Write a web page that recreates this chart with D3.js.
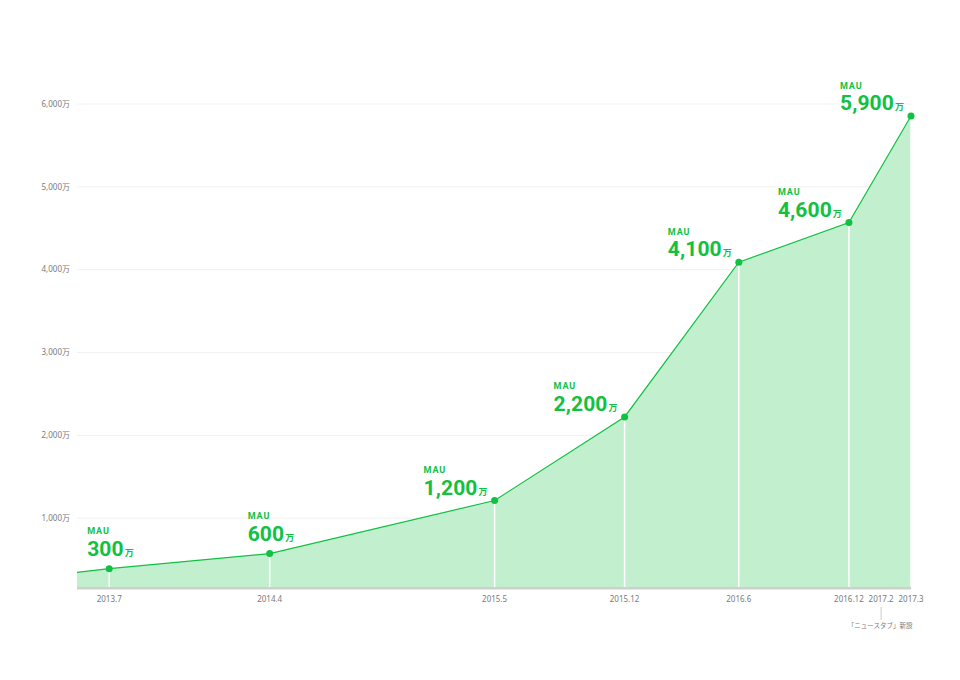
<!DOCTYPE html>
<html>
<head>
<meta charset="utf-8">
<script src="https://cdn.jsdelivr.net/npm/d3@7"></script>
<style>
  body { margin: 0; background: #fff; }
  svg { display: block; font-family: "Noto Sans", "Noto Sans CJK JP", sans-serif; }
</style>
</head>
<body>
<div id="chart"></div>
<script>
const width = 960, height = 680;

// data (values in 万)
const dates = ["2013-05-07", "2013-07-01", "2014-04-01", "2015-04-20", "2015-11-28", "2016-06-10", "2016-12-15", "2017-03-31"];
const values = [345, 390, 572, 1213, 2222, 4091, 4568, 5855];
const labels = [null, "300", "600", "1,200", "2,200", "4,100", "4,600", "5,900"];
const tickNames = ["2013.7", "2014.4", "2015.5", "2015.12", "2016.6", "2016.12", "2017.2", "2017.3"];
const tickDates = ["2013-07-01", "2014-04-01", "2015-04-20", "2015-11-28", "2016-06-10", "2016-12-15", "2017-02-08", "2017-03-31"];
const yTicks = [1000, 2000, 3000, 4000, 5000, 6000];
const note = "「ニュースタブ」新設";
const noteTick = "2017.2";

const green = "#10c142";
const parse = d3.timeParse("%Y-%m-%d");
const data = dates.map((d, i) => ({date: parse(d), value: values[i], label: labels[i]}));

const left = 77, right = 911, bottom = 587;

const svg = d3.select("#chart")
  .append("svg")
    .attr("width", width)
    .attr("height", height);

const x = d3.scaleTime()
  .domain([data[0].date, data[data.length - 1].date])
  .range([left, right]);

const y = d3.scaleLinear()
  .domain([0, 6000])
  .range([601, 104]);

// grid lines + y labels
svg.append("g")
  .selectAll("line")
  .data(yTicks)
  .join("line")
    .attr("x1", left)
    .attr("x2", right)
    .attr("y1", d => y(d))
    .attr("y2", d => y(d))
    .attr("stroke", "#f1f1f1")
    .attr("stroke-width", 1);

svg.append("g")
  .selectAll("text")
  .data(yTicks)
  .join("text")
    .attr("x", 70)
    .attr("y", d => y(d))
    .attr("dy", "0.35em")
    .attr("text-anchor", "end")
    .style("font-size", "8px")
    .style("fill", "#7a7a7a")
    .text(d => d3.format(",")(d) + "万");

// area
const area = d3.area()
  .x(d => x(d.date))
  .y0(bottom)
  .y1(d => y(d.value));

svg.append("path")
  .datum(data)
  .attr("d", area)
  .attr("fill", "#c2f0cf");

// white drop lines
const pts = data.filter(d => d.label);
svg.append("g")
  .selectAll("line")
  .data(pts)
  .join("line")
    .attr("x1", d => x(d.date))
    .attr("x2", d => x(d.date))
    .attr("y1", d => y(d.value))
    .attr("y2", bottom)
    .attr("stroke", "#fff")
    .attr("stroke-width", 1.5);

// line
const line = d3.line()
  .x(d => x(d.date))
  .y(d => y(d.value));

svg.append("path")
  .datum(data)
  .attr("d", line)
  .attr("fill", "none")
  .attr("stroke", green)
  .attr("stroke-width", 1.2);

// baseline
svg.append("line")
  .attr("x1", left)
  .attr("x2", right)
  .attr("y1", bottom + 1.2)
  .attr("y2", bottom + 1.2)
  .attr("stroke", "#cfcfcf")
  .attr("stroke-width", 2.5);

// dots
svg.append("g")
  .selectAll("circle")
  .data(pts)
  .join("circle")
    .attr("cx", d => x(d.date))
    .attr("cy", d => y(d.value))
    .attr("r", 3.5)
    .attr("fill", green);

// x labels
const ticks = tickNames.map((t, i) => ({name: t, date: parse(tickDates[i])}));
svg.append("g")
  .selectAll("text")
  .data(ticks)
  .join("text")
    .attr("x", d => x(d.date))
    .attr("y", 602)
    .attr("text-anchor", "middle")
    .style("font-size", "8px")
    .style("fill", "#7a7a7a")
    .text(d => d.name);

// note under 2017.2
const nt = ticks.find(t => t.name === noteTick);
svg.append("line")
  .attr("x1", x(nt.date))
  .attr("x2", x(nt.date))
  .attr("y1", 607)
  .attr("y2", 620)
  .attr("stroke", "#cccccc")
  .attr("stroke-width", 1);

svg.append("text")
  .attr("x", x(nt.date) - 1)
  .attr("y", 628)
  .attr("text-anchor", "middle")
  .style("font-family", "'Noto Sans CJK JP', sans-serif")
  .style("font-size", "6.5px")
  .style("fill", "#7a7a7a")
  .text(note);

// MAU labels: first two sit above the point, others up-left
const lab = svg.append("g")
  .style("font-family", "Roboto, 'Noto Sans CJK JP', sans-serif")
  .selectAll("text")
  .data(pts)
  .join("text")
    .attr("transform", (d, i) => i < 2
      ? `translate(${x(d.date) - 22}, ${y(d.value) - 13})`
      : `translate(${x(d.date) - 71}, ${y(d.value) - 6})`)
    .style("fill", green)
    .style("font-weight", "bold");

lab.append("tspan")
  .attr("x", 0)
  .attr("y", -21.5)
  .style("font-size", "9px")
  .style("letter-spacing", "0.9px")
  .text("MAU");

lab.append("tspan")
  .attr("x", 0)
  .attr("y", 0)
  .style("font-size", "21px")
  .style("letter-spacing", "0.1px")
  .text(d => d.label);

lab.append("tspan")
  .attr("dx", 1)
  .style("font-family", "'Noto Sans CJK JP', sans-serif")
  .style("font-size", "9px")
  .text("万");
</script>
</body>
</html>
